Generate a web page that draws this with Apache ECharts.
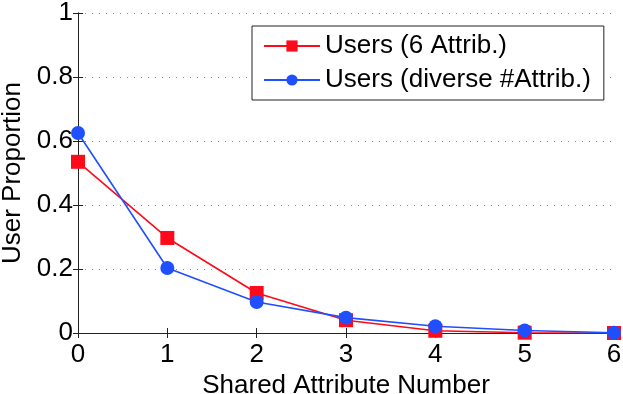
<!DOCTYPE html>
<html lang="en" style="height: 100%">
<head>
  <meta charset="utf-8">
</head>
<body style="height: 100%; margin: 0; background: #fff">
  <div id="container" style="width: 623px; height: 394px"></div>

  <script type="text/javascript" src="https://cdn.jsdelivr.net/npm/echarts@6/dist/echarts.min.js"></script>
  <script type="text/javascript">
    var dom = document.getElementById('container');
    var myChart = echarts.init(dom, null, { renderer: 'canvas' });

    // data
    var xValues = [0, 1, 2, 3, 4, 5, 6];
    var users6 = [0.535, 0.297, 0.125, 0.040, 0.007, 0.001, 0.000];
    var usersDiverse = [0.625, 0.203, 0.097, 0.048, 0.021, 0.008, 0.001];
    var seriesNames = ['Users (6 Attrib.)', 'Users (diverse #Attrib.)'];

    var font = 'Liberation Sans, Arial, sans-serif';
    var fs = 26;

    function pairs(vals) {
      return vals.map(function (v, i) { return [xValues[i], v]; });
    }

    var frameLine = { show: true, lineStyle: { color: '#222', width: 1 } };
    var tick = { show: true, inside: true, length: 5, lineStyle: { color: '#222' } };

    var option = {
      animation: false,
      textStyle: { fontFamily: font },
      grid: { left: 78, right: 9, top: 13, bottom: 61, outerBoundsMode: 'none' },
      legend: {
        orient: 'vertical',
        left: 252,
        top: 26,
        backgroundColor: '#fff',
        borderColor: '#222',
        borderWidth: 1,
        borderRadius: 0,
        padding: [5, 13, 5, 11],
        itemGap: 4,
        itemWidth: 56,
        itemHeight: 14,
        itemTextGap: 7,
        textStyle: { fontSize: fs, color: '#000', fontFamily: font, lineHeight: 30 },
        data: seriesNames
      },
      xAxis: [{
        type: 'value',
        min: 0, max: 6, interval: 1,
        name: 'Shared Attribute Number',
        nameLocation: 'middle',
        nameGap: 37,
        nameTextStyle: { fontSize: fs, color: '#000' },
        axisLine: frameLine,
        axisTick: tick,
        axisLabel: { fontSize: fs, color: '#000', margin: 9 },
        splitLine: { show: false }
      }, {
        type: 'value',
        position: 'top',
        min: 0, max: 6, interval: 1,
        axisLine: frameLine,
        axisTick: tick,
        axisLabel: { show: false },
        splitLine: { show: false }
      }],
      yAxis: [{
        type: 'value',
        min: 0, max: 1, interval: 0.2,
        name: 'User Proportion',
        nameLocation: 'middle',
        nameGap: 52,
        nameTextStyle: { fontSize: fs, color: '#000' },
        axisLine: frameLine,
        axisTick: tick,
        axisLabel: {
          fontSize: fs, color: '#000', margin: 5,
          formatter: function (v) { return Math.round(v * 10) / 10 + ''; }
        },
        splitLine: { show: true, lineStyle: { color: '#888', type: [1, 6], width: 1 } }
      }, {
        type: 'value',
        position: 'right',
        min: 0, max: 1, interval: 0.2,
        axisLine: frameLine,
        axisTick: tick,
        axisLabel: { show: false },
        splitLine: { show: false }
      }],
      series: [{
        name: seriesNames[0],
        type: 'line',
        data: pairs(users6),
        symbol: 'rect',
        symbolSize: 14,
        color: '#ff0a1a',
        lineStyle: { width: 1.6, color: '#ff0a1a' },
        itemStyle: { color: '#ff0a1a' }
      }, {
        name: seriesNames[1],
        type: 'line',
        data: pairs(usersDiverse),
        symbol: 'circle',
        symbolSize: 14,
        color: '#1f4fff',
        lineStyle: { width: 1.6, color: '#1f4fff' },
        itemStyle: { color: '#1f4fff' }
      }]
    };

    myChart.setOption(option);
  </script>
</body>
</html>
